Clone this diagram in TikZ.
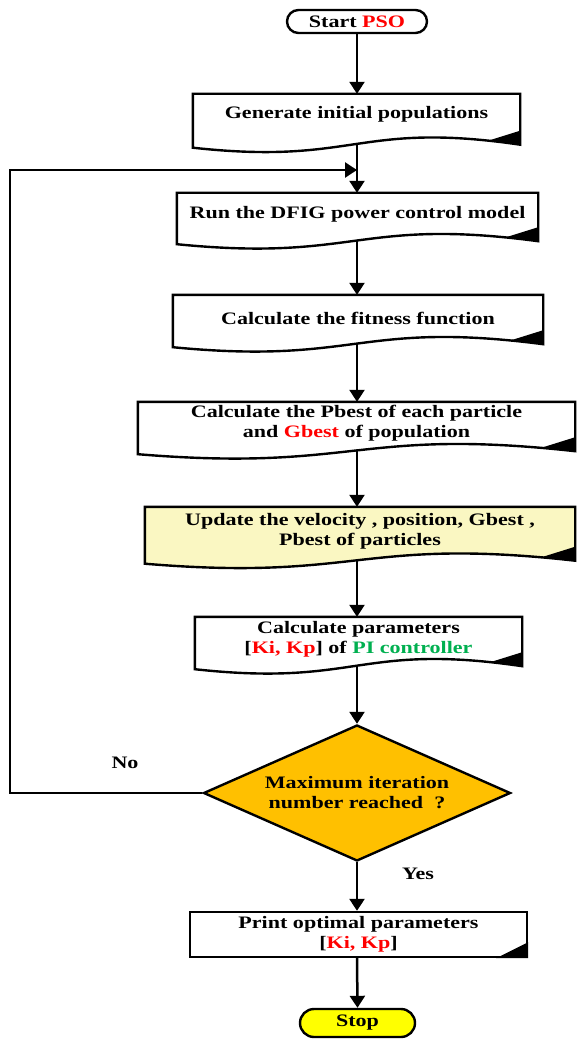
\documentclass[tikz,border=0pt]{standalone}
\usepackage{fontspec}
\setmainfont{Liberation Serif}[FakeStretch=1.26]
\usetikzlibrary{arrows.meta,shapes.geometric,calc}
\pgfdeclarelayer{lines}
\pgfdeclarelayer{shapes}
\pgfsetlayers{lines,shapes,main}
\definecolor{pred}{HTML}{FF0000}
\definecolor{pgreen}{HTML}{00B050}
\definecolor{dorange}{HTML}{FFC000}
\definecolor{lyellow}{HTML}{FAF7C2}
\definecolor{syellow}{HTML}{FFFF00}
\newcommand{\docshape}[3]{%
  \filldraw[fill=#3, line width=2.4pt, line join=miter]
    (#1.north west) -- (#1.north east) -- ($(#1.south east)+(0,#2-3)$)
    .. controls ($(#1.south)+(0,#2-27)$) and ($(#1.south)+(0,#2+18)$) ..
    ($(#1.south west)+(0,#2)$) -- cycle;
  \fill ($(#1.south east)+(0,#2-3)$) -- ($(#1.south east)+(0,#2-17)$)
    -- ($(#1.south east)+(-32,#2-7)$) -- cycle;}
\begin{document}
\begin{tikzpicture}[x=1pt,y=-1pt,
  txt/.style={font=\fontsize{17.5}{20}\selectfont\bfseries, align=center, inner sep=0pt},
  arr/.style={line width=2.5pt, -{Triangle[length=12pt,width=15pt]}}]
\useasboundingbox (0,0) rectangle (576,1040);
\coordinate (ax) at (357,0);
\coordinate (lx) at (10,0);
\coordinate (j) at (357,170);

\node[txt, draw, fill=white, line width=2.4pt, rounded corners=11.5pt,
      minimum width=140pt, minimum height=23pt] (start) at (357,21.5) {Start \textcolor{pred}{PSO}};

\node[txt, minimum width=327pt, minimum height=41pt] (b1) at (356.5,114.5) {Generate initial populations};
\node[txt, minimum width=361pt, minimum height=42pt] (b2) at (357.5,214) {Run the DFIG power control model};
\node[txt, minimum width=370pt, minimum height=46pt] (b3) at (358,318) {Calculate the fitness function};
\node[txt, minimum width=437pt, minimum height=43pt] (b4) at (356.5,423.5) {Calculate the Pbest of each particle\\and \textcolor{pred}{Gbest} of population};
\node[txt, minimum width=430pt, minimum height=48pt] (b5) at (360,531) {Update the velocity , position, Gbest ,\\Pbest of particles};
\node[txt, minimum width=327pt, minimum height=45pt] (b6) at (358.5,639.5) {Calculate parameters\\{}[\textcolor{pred}{Ki, Kp}] of \textcolor{pgreen}{PI controller}};

\node[txt, diamond, draw, fill=dorange, line width=2.4pt, shape aspect=2.26,
      minimum width=307pt, minimum height=136pt] (d) at (357,793) {Maximum iteration\\number reached ~?};

\node[txt] (no) at (125,763) {No};
\node[txt] (yes) at (418,874) {Yes};

\node[txt, draw, fill=white, line width=2.4pt, minimum width=337pt, minimum height=45pt] (b7) at (358.5,934.5) {Print optimal parameters\\{}[\textcolor{pred}{Ki, Kp}]};
\fill (b7.south east) -- ++(0,-16) -- ++(-32,16) -- cycle;

\node[txt, draw, fill=syellow, line width=2.4pt, rounded corners=14pt,
      minimum width=115pt, minimum height=28pt] (stop) at (357.5,1023) {Stop};

\begin{pgfonlayer}{shapes}
\docshape{b1}{12.5}{white}
\docshape{b2}{9}{white}
\docshape{b3}{6}{white}
\docshape{b4}{9}{white}
\docshape{b5}{8.5}{lyellow}
\docshape{b6}{7}{white}
\end{pgfonlayer}

\begin{pgfonlayer}{lines}
\draw[arr] (start.south) -- (b1.north -| ax);
\draw[arr] (b1.south -| ax) -- (b2.north -| ax);
\draw[arr] (b2.south -| ax) -- (b3.north -| ax);
\draw[arr] (b3.south -| ax) -- (b4.north -| ax);
\draw[arr] (b4.south -| ax) -- (b5.north -| ax);
\draw[arr] (b5.south -| ax) -- (b6.north -| ax);
\draw[arr] (b6.south -| ax) -- (d.north);
\draw[arr] (d.south) -- (b7.north -| ax);
\draw[arr] (b7.south -| ax) -- (stop.north);
\draw[arr] (d.west) -| (lx |- j) -- (j);
\end{pgfonlayer}
\end{tikzpicture}
\end{document}
